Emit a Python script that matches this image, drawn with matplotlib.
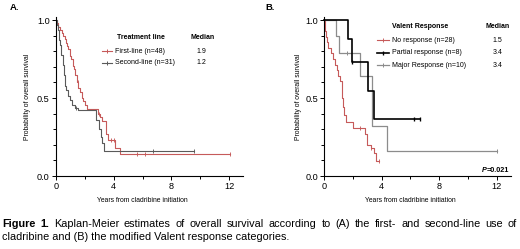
import matplotlib
matplotlib.use('Agg')
import matplotlib.pyplot as plt
import matplotlib.ticker as ticker

plt.rcParams['font.family'] = ['Liberation Sans', 'DejaVu Sans']

# ---- data: step times (years) and survival values ----
# Panel A
first_t = [0, 0.08, 0.16, 0.3, 0.39, 0.51, 0.6, 0.69, 0.78, 0.85, 0.97, 1.05, 1.16, 1.25,
           1.35, 1.43, 1.55, 1.65, 1.78, 1.9, 2.0, 2.13, 2.9, 3.05, 3.2, 3.5, 3.6, 4.1, 4.45, 12.05]
first_s = [1.0, 0.979, 0.958, 0.937, 0.917, 0.896, 0.875, 0.854, 0.833, 0.812, 0.771, 0.75, 0.708, 0.687,
           0.646, 0.604, 0.562, 0.541, 0.5, 0.479, 0.458, 0.427, 0.40, 0.375, 0.35, 0.27, 0.23, 0.18, 0.14, 0.14]
first_cens = [1.5, 3.0, 3.8, 4.0, 5.6, 6.2, 12.05]

second_t = [0, 0.06, 0.12, 0.2, 0.3, 0.38, 0.46, 0.54, 0.62, 0.72, 0.85, 0.97, 1.1, 1.3,
            1.55, 2.75, 2.95, 3.1, 3.2, 3.35, 9.6]
second_s = [1.0, 0.968, 0.935, 0.871, 0.839, 0.774, 0.71, 0.645, 0.58, 0.55, 0.516, 0.484, 0.452, 0.435,
            0.42, 0.36, 0.30, 0.25, 0.21, 0.16, 0.16]
second_cens = [1.4, 6.7, 9.6]

# Panel B
noresp_t = [0, 0.03, 0.08, 0.14, 0.2, 0.26, 0.45, 0.6, 0.72, 0.86, 0.95, 1.1, 1.2, 1.25, 1.3,
            1.4, 1.5, 2.0, 2.8, 3.0, 3.25, 3.49, 3.6, 3.8]
noresp_s = [1.0, 0.964, 0.929, 0.893, 0.857, 0.821, 0.786, 0.75, 0.714, 0.679, 0.643, 0.607, 0.536, 0.5, 0.44,
            0.393, 0.345, 0.31, 0.27, 0.20, 0.18, 0.15, 0.095, 0.095]
noresp_cens = [2.5, 3.25, 3.8]

partial_t = [0, 1.67, 1.9, 3.07, 3.49, 6.66]
partial_s = [1.0, 0.875, 0.729, 0.547, 0.365, 0.365]
partial_cens = [1.9, 6.25, 6.66]

major_t = [0, 0.81, 1.05, 2.49, 3.3, 4.34, 12.0]
major_s = [1.0, 0.9, 0.7875, 0.64, 0.32, 0.16, 0.16]
major_cens = [1.55, 12.0]

red = '#c65a5a'
gray_dark = '#5a5a5a'
gray_light = '#8c8c8c'

small = 4.9   # axis label size
leg = 5.0     # legend text size


def step_value(ts, ss, x):
    # survival value of a step curve at time x
    v = ss[0]
    for t, s in zip(ts, ss):
        if t <= x:
            v = s
    return v


def km(ax, ts, ss, cens, color, lw):
    ax.step(ts, ss, where='post', color=color, lw=lw, clip_on=False)
    ax.plot(cens, [step_value(ts, ss, c) for c in cens], ls='none', marker='|',
            ms=3.5, mew=lw * 0.8, color=color, clip_on=False)


def style_axes(ax):
    ax.set_xlim(0, 13)
    ax.set_ylim(0, 1.02)
    for side in ['top', 'right']:
        ax.spines[side].set_visible(False)
    for side in ['left', 'bottom']:
        ax.spines[side].set_linewidth(0.8)
    ax.xaxis.set_major_locator(ticker.FixedLocator([0, 4, 8, 12]))
    ax.xaxis.set_minor_locator(ticker.FixedLocator([2, 6, 10]))
    ax.yaxis.set_major_locator(ticker.FixedLocator([0.0, 0.5, 1.0]))
    ax.yaxis.set_minor_locator(ticker.MultipleLocator(0.1))
    ax.yaxis.set_major_formatter(ticker.FormatStrFormatter('%.1f'))
    ax.tick_params(which='both', direction='out', labelsize=6.6, width=0.7, pad=1.5)
    ax.tick_params(which='major', length=3)
    ax.tick_params(which='minor', length=2.2)
    ax.text(6, -0.135, 'Years from cladribine initiation', ha='center', va='top', fontsize=small)


fig = plt.figure(figsize=(5.2, 2.49), dpi=100)
W, H = 520.0, 249.0

# ---- panel A ----
axA = fig.add_axes([56 / W, 1 - 176 / H, 13 * 14.42 / W, 1.02 * 156 / H])
style_axes(axA)
km(axA, first_t, first_s, first_cens, red, 0.8)
km(axA, second_t, second_s, second_cens, gray_dark, 0.8)
fig.text(28 / W, 1 - 97 / H, 'Probability of overall survival', rotation=90,
         ha='center', va='center', fontsize=small)
fig.text(10 / W, 1 - 8 / H, 'A.', fontsize=6.8, fontweight='bold', va='center')

# legend, written by hand like the original
axA.text(4.2, 0.886, 'Treatment line', fontsize=leg, fontweight='bold', va='center')
axA.text(9.3, 0.886, 'Median', fontsize=leg, fontweight='bold', va='center')
rowsA = [('First-line (n=48)', '1.9', red, 0.80), ('Second-line (n=31)', '1.2', gray_dark, 0.725)]
for label, med, col, yy in rowsA:
    axA.plot([3.17, 3.86], [yy, yy], color=col, lw=0.8, clip_on=False)
    axA.plot([3.52], [yy], marker='|', ms=3, color=col, mew=0.7, clip_on=False)
    axA.text(4.09, yy, label, fontsize=leg, va='center')
    axA.text(10.1, yy, med, fontsize=leg, va='center', ha='center')

# ---- panel B ----
axB = fig.add_axes([324.3 / W, 1 - 176 / H, 13 * 14.36 / W, 1.02 * 156 / H])
style_axes(axB)
km(axB, noresp_t, noresp_s, noresp_cens, red, 0.8)
km(axB, major_t, major_s, major_cens, gray_light, 0.9)
km(axB, partial_t, partial_s, partial_cens, 'black', 1.2)
fig.text(298 / W, 1 - 97 / H, 'Probability of overall survival', rotation=90,
         ha='center', va='center', fontsize=small)
fig.text(265 / W, 1 - 8 / H, 'B.', fontsize=6.8, fontweight='bold', va='center')

axB.text(4.73, 0.96, 'Valent Response', fontsize=leg, fontweight='bold', va='center')
axB.text(11.24, 0.96, 'Median', fontsize=leg, fontweight='bold', va='center')
rowsB = [('No response (n=28)', '1.5', red, 0.8, 0.87),
         ('Partial response (n=8)', '3.4', 'black', 1.2, 0.79),
         ('Major Response (n=10)', '3.4', gray_light, 0.9, 0.71)]
for label, med, col, lw, yy in rowsB:
    axB.plot([3.65, 4.53], [yy, yy], color=col, lw=lw, clip_on=False)
    axB.plot([4.09], [yy], marker='|', ms=3, color=col, mew=lw * 0.8, clip_on=False)
    axB.text(4.73, yy, label, fontsize=leg, va='center')
    axB.text(12.05, yy, med, fontsize=leg, va='center', ha='center')

# P value: italic bold P followed by bold =0.021
fig.canvas.draw()
renderer = fig.canvas.get_renderer()
pnum = axB.text(12.87, 0.012, '=0.021', fontsize=5.2, fontweight='bold', ha='right', va='bottom')
wpx = pnum.get_window_extent(renderer).width
pdisp = axB.transData.transform((12.87, 0.012))
fig.text((pdisp[0] - wpx) / W, pdisp[1] / H, 'P', fontsize=5.2, fontweight='bold',
         fontstyle='italic', ha='right', va='bottom')

# ---- caption, justified on the first line ----
cap_size = 7.8
line1 = [('Figure', 'bold'), ('1.', 'bold')] + [(w, 'normal') for w in
         'Kaplan-Meier estimates of overall survival according to (A) the first- and second-line use of'.split()]
left_px, right_px = 2.0, 517.0
texts = []
widths = []
for word, weight in line1:
    t = fig.text(0, 1 - 224 / H, word, fontsize=cap_size, fontweight=weight, va='center')
    texts.append(t)
    widths.append(t.get_window_extent(renderer).width)
gap = (right_px - left_px - sum(widths)) / (len(texts) - 1)
x = left_px
for t, w in zip(texts, widths):
    t.set_x(x / W)
    x += w + gap
fig.text(left_px / W, 1 - 237 / H, 'cladribine and (B) the modified Valent response categories.',
         fontsize=cap_size, va='center')

plt.savefig('out.png', dpi=100)
